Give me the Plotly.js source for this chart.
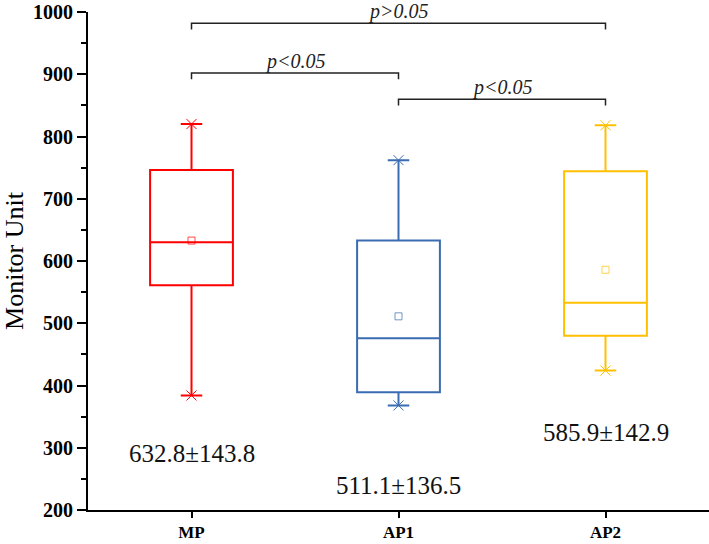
<!DOCTYPE html>
<html>
<head>
<meta charset="utf-8">
<script src="https://cdn.plot.ly/plotly-3.0.1.min.js"></script>
<style>html,body{margin:0;padding:0;background:#fff;}#chart{width:709px;height:544px;}</style>
</head>
<body>
<div id="chart"></div>
<script>
// ---- data ----
const categories = ['MP', 'AP1', 'AP2'];
const lowerWhisker = [384, 368, 424];
const q1Values = [561, 389, 480];
const medianValues = [630, 476, 533];
const q3Values = [746, 633, 744];
const upperWhisker = [820, 762, 818];
const meanValues = [632.8, 511.1, 585.9];
const sdValues = [143.8, 136.5, 142.9];
const statLabelY = [291, 240, 324];
const comparisons = [
  {from: 'MP', to: 'AP2', label: 'p>0.05', level: 982},
  {from: 'MP', to: 'AP1', label: 'p<0.05', level: 902},
  {from: 'AP1', to: 'AP2', label: 'p<0.05', level: 860}
];
const colors = ['#FF0000', '#3A6CB2', '#FFC000'];
const SERIF = '"Liberation Serif", "Times New Roman", Times, serif';

// ---- traces ----
const traces = [];
categories.forEach((c, i) => {
  traces.push({
    type: 'box', name: c, x: [c],
    q1: [q1Values[i]], median: [medianValues[i]], q3: [q3Values[i]],
    lowerfence: [lowerWhisker[i]], upperfence: [upperWhisker[i]],
    width: 0.4, whiskerwidth: 0.26,
    line: {color: colors[i], width: 2},
    fillcolor: 'rgba(0,0,0,0)', boxpoints: false, hoverinfo: 'skip'
  });
  traces.push({
    type: 'scatter', mode: 'markers', x: [c, c], y: [lowerWhisker[i], upperWhisker[i]],
    marker: {symbol: 'x-thin-open', size: 10, color: colors[i], line: {color: colors[i], width: 1}},
    hoverinfo: 'skip', showlegend: false
  });
  traces.push({
    type: 'scatter', mode: 'markers', x: [c], y: [meanValues[i]],
    marker: {symbol: 'square-open', size: 7, color: colors[i], opacity: 0.7, line: {color: colors[i], width: 1}},
    hoverinfo: 'skip', showlegend: false
  });
});

const annotations = categories.map((c, i) => ({
  x: c, y: statLabelY[i], xref: 'x', yref: 'y',
  text: meanValues[i].toFixed(1) + '±' + sdValues[i].toFixed(1),
  showarrow: false, font: {family: SERIF, size: 25, color: '#111'}
}));
const shapes = [];
const tickDrop = 10;
comparisons.forEach(cmp => {
  const idxA = categories.indexOf(cmp.from), idxB = categories.indexOf(cmp.to);
  shapes.push({type: 'path', xref: 'x', yref: 'y',
    path: `M ${idxA} ${cmp.level - tickDrop} L ${idxA} ${cmp.level} L ${idxB} ${cmp.level} L ${idxB} ${cmp.level - tickDrop}`,
    line: {color: '#222', width: 1.5}});
  annotations.push({x: (idxA + idxB) / 2, y: cmp.level, xref: 'x', yref: 'y',
    text: '<i>' + cmp.label + '</i>', showarrow: false, yanchor: 'bottom', yshift: -2,
    font: {family: SERIF, size: 20, color: '#222'}});
});

const layout = {
  width: 709, height: 544,
  margin: {l: 88, r: 0, t: 12, b: 34},
  paper_bgcolor: '#fff', plot_bgcolor: '#fff',
  showlegend: false, boxmode: 'overlay',
  font: {family: SERIF, color: '#000'},
  xaxis: {
    type: 'category', range: [-0.5, 2.5], showgrid: false, zeroline: false,
    showline: true, linecolor: '#000', linewidth: 2,
    ticks: 'outside', ticklen: 6, tickwidth: 2, tickcolor: '#000',
    tickfont: {family: SERIF, size: 17, weight: 'bold'}
  },
  yaxis: {
    range: [200, 1000], dtick: 100, showgrid: false, zeroline: false,
    showline: true, linecolor: '#000', linewidth: 2,
    ticks: 'outside', ticklen: 9, tickwidth: 2, tickcolor: '#000',
    minor: {dtick: 50, ticks: 'outside', ticklen: 5, tickwidth: 2, tickcolor: '#000'},
    tickfont: {family: SERIF, size: 20, weight: 'bold'},
    title: {text: 'Monitor Unit', font: {family: SERIF, size: 26}, standoff: 10}
  },
  shapes: shapes, annotations: annotations
};
Plotly.newPlot('chart', traces, layout, {displayModeBar: false, staticPlot: true});
</script>
</body>
</html>
